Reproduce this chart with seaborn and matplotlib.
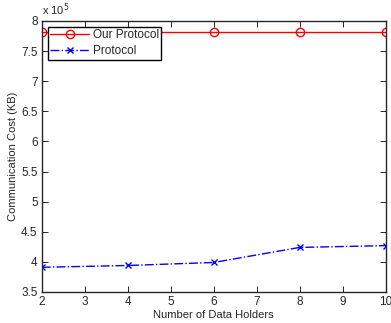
import matplotlib
matplotlib.use("Agg")
import matplotlib.pyplot as plt
import seaborn as sns
import pandas as pd

# values (x 10^5 KB)
holders = [2, 4, 6, 8, 10]
our_protocol = [7.82, 7.82, 7.82, 7.82, 7.82]
protocol = [3.91, 3.94, 3.99, 4.24, 4.27]

df = pd.DataFrame({"holders": holders, "ours": our_protocol, "other": protocol})

sns.set_style("ticks")
plt.rcParams["font.family"] = ["Liberation Sans", "DejaVu Sans"]

fig = plt.figure(figsize=(3.91, 3.23), dpi=100)
ax = fig.add_axes([0.107, 0.096, 0.879, 0.839])

sns.lineplot(data=df, x="holders", y="ours", ax=ax, color="red", linewidth=1.0,
             marker="o", markersize=6, markerfacecolor="none", markeredgecolor="red",
             markeredgewidth=1.0, label="Our Protocol")
sns.lineplot(data=df, x="holders", y="other", ax=ax, color="blue", linewidth=1.0,
             linestyle="-.", marker="x", markersize=4, markeredgecolor="blue",
             markeredgewidth=1.0, label="Protocol")

ax.set_xlim(2, 10)
ax.set_ylim(3.5, 8)
ax.set_xticks(range(2, 11))
ax.set_yticks([3.5, 4, 4.5, 5, 5.5, 6, 6.5, 7, 7.5, 8])
ax.set_yticklabels(["3.5", "4", "4.5", "5", "5.5", "6", "6.5", "7", "7.5", "8"])
ax.tick_params(direction="in", labelsize=8.5, length=4, width=0.7,
               top=True, right=True, pad=3)
for s in ax.spines.values():
    s.set_linewidth(1.0)
ax.set_xlabel("Number of Data Holders", fontsize=8, labelpad=1)
ax.set_ylabel("Communication Cost (KB)", fontsize=8, labelpad=2)
ax.text(0.0, 1.01, "x 10$^5$", transform=ax.transAxes, fontsize=8, ha="left", va="bottom")

leg = ax.legend(loc="upper left", fontsize=8.5, frameon=True, fancybox=False,
                borderpad=0.2, handlelength=3.3, labelspacing=0.35,
                borderaxespad=0.5, handletextpad=0.3)
leg.get_frame().set_edgecolor("black")
leg.get_frame().set_linewidth(1.0)
leg.get_frame().set_alpha(1)

fig.savefig("out.png", dpi=100)
